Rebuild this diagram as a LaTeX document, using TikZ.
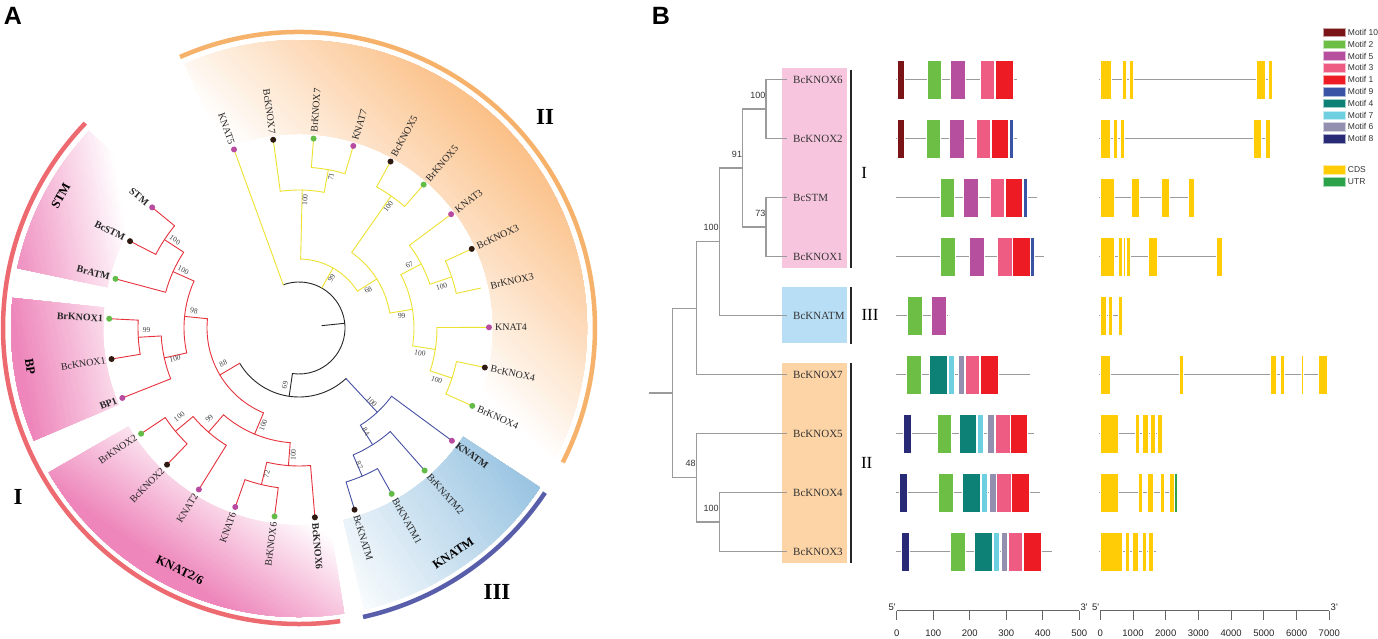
\documentclass[tikz,border=0pt]{standalone}
\usepackage{fontspec}
\setmainfont{Liberation Serif}
\setsansfont{Liberation Sans}
\usetikzlibrary{calc}
\definecolor{ylc}{RGB}{238,226,48}
\definecolor{rdc}{RGB}{230,50,60}
\definecolor{blc}{RGB}{70,80,165}
\definecolor{mag}{RGB}{184,74,160}
\definecolor{brn}{RGB}{45,25,15}
\definecolor{grn}{RGB}{100,188,72}
\definecolor{orS}{RGB}{251,192,135}
\definecolor{pkS}{RGB}{238,134,187}
\definecolor{blS}{RGB}{146,192,224}
\definecolor{orA}{RGB}{246,178,106}
\definecolor{rdA}{RGB}{236,106,112}
\definecolor{blA}{RGB}{88,94,170}
\definecolor{gtree}{RGB}{155,155,155}
\definecolor{boxpk}{RGB}{247,198,222}
\definecolor{boxbl}{RGB}{183,222,245}
\definecolor{boxor}{RGB}{253,212,166}
\definecolor{mA}{RGB}{123,20,22}
\definecolor{mB}{RGB}{108,190,69}
\definecolor{mC}{RGB}{182,80,158}
\definecolor{mD}{RGB}{238,92,131}
\definecolor{mE}{RGB}{237,28,36}
\definecolor{mF}{RGB}{58,83,164}
\definecolor{mG}{RGB}{14,129,119}
\definecolor{mH}{RGB}{109,207,223}
\definecolor{mI}{RGB}{146,144,174}
\definecolor{mJ}{RGB}{41,42,118}
\definecolor{cds}{RGB}{255,204,5}
\definecolor{utr}{RGB}{43,161,74}
\newcommand\trad[4]{\draw[#1] (#2:#3) -- (#2:#4);}
\newcommand\tarc[4]{\draw[#1] (#3:#2) arc[start angle=#3,end angle=#4,radius=#2];}
\newcommand\gsector[8]{%
 \begin{scope}
 \clip (#2:#4) arc[start angle=#2,end angle=#3,radius=#4] -- (#3:#5) arc[start angle=#3,end angle=#2,radius=#5] -- cycle;
 \begin{scope}[rotate=#6]
 \foreach \k in {0,...,40}{%
   \pgfmathsetmacro\xx{(#7)+\k*((#8)-(#7))/40}%
   \pgfmathtruncatemacro\pp{\k*2.5}%
   \fill[#1!\pp!white] (\xx,-320) rectangle (340,320);
 }
 \end{scope}
 \end{scope}}
\newcommand\mrow[2]{\foreach \c/\a/\b in {#2}{\filldraw[fill=\c,mbox] (\a,-#1+19.5) rectangle (\b,-#1-19.5);}}
\begin{document}
\begin{tikzpicture}[x=1pt,y=1pt,
 br/.style={line width=0.9pt,line cap=round},
 tY/.style={br,draw=ylc}, tR/.style={br,draw=rdc}, tB/.style={br,draw=blc}, tK/.style={br,draw=black!85},
 leaf/.style={inner sep=0pt,font=\fontsize{10}{12}\selectfont,text=black!85},
 bs/.style={inner sep=0pt,font=\fontsize{7.5}{9}\selectfont,text=black!75},
 seclab/.style={inner sep=0pt,font=\bfseries\fontsize{12.5}{14}\selectfont},
 romA/.style={inner sep=0pt,font=\bfseries\fontsize{23}{26}\selectfont},
 panel/.style={inner sep=0pt,font=\sffamily\bfseries\fontsize{25}{28}\selectfont},
 gt/.style={draw=gtree,line width=1.1pt},
 lblB/.style={anchor=west,inner sep=0pt,font=\fontsize{11}{13}\selectfont,text=black!80},
 bsB/.style={anchor=east,inner sep=0pt,font=\sffamily\fontsize{9}{10}\selectfont,text=black!80},
 bar/.style={draw=black!85,line width=2.2pt},
 romB/.style={inner sep=0pt,font=\fontsize{17}{19}\selectfont},
 mbox/.style={draw=white,line width=0.3pt},
 gline/.style={draw=gtree,line width=1.2pt},
 axis/.style={draw=black!60,line width=0.8pt},
 tick/.style={inner sep=0pt,font=\sffamily\fontsize{9.5}{11}\selectfont,text=black!85},
 leg/.style={anchor=west,inner sep=0pt,font=\sffamily\fontsize{8.5}{10}\selectfont,text=black!80}]
\useasboundingbox (0,0) rectangle (1378,-638);
\fill[white] (0,0) rectangle (1378,-638);
% ================= Panel A =================
\begin{scope}[shift={(299,-328)}]
\gsector{orS}{113.4}{-27}{194}{288}{45}{80}{285}
\gsector{pkS}{136.8}{168}{196}{288}{190}{150}{275}
\gsector{pkS}{174}{203}{196}{288}{190}{150}{278}
\gsector{pkS}{210}{279}{197}{289}{235}{150}{270}
\gsector{blS}{-33.5}{-77}{197}{289}{34}{-120}{120}
\draw[line width=4.5pt,orA] (113.7:296) arc[start angle=113.7,end angle=-27,radius=296];
\draw[line width=4.5pt,rdA] (136.2:296) arc[start angle=136.2,end angle=278,radius=296];
\draw[line width=4.5pt,blA] (-33.8:296) arc[start angle=-33.8,end angle=-77.5,radius=296];
% root
\tarc{tK}{46}{110}{-98.2}
\trad{tK}{5.9}{23}{46}
% clade II (yellow)
\trad{tY}{110}{46}{188}
\trad{tY}{60.4}{46}{69} \tarc{tY}{69}{88.65}{32.2}
\trad{tY}{88.65}{69}{138} \tarc{tY}{138}{97.8}{79.5} \trad{tY}{97.8}{138}{188}
\trad{tY}{79.5}{138}{161} \tarc{tY}{161}{85.6}{73.4} \trad{tY}{85.6}{161}{188} \trad{tY}{73.4}{161}{188}
\trad{tY}{32.2}{69}{92} \tarc{tY}{92}{55.1}{9.35}
\trad{tY}{55.1}{92}{161} \tarc{tY}{161}{61.2}{49} \trad{tY}{61.2}{161}{188} \trad{tY}{49}{161}{188}
\trad{tY}{9.35}{92}{115} \tarc{tY}{115}{27.65}{-8.95}
\trad{tY}{27.65}{115}{138} \tarc{tY}{138}{36.8}{18.5} \trad{tY}{36.8}{138}{188}
\trad{tY}{18.5}{138}{161} \tarc{tY}{161}{24.6}{12.4} \trad{tY}{24.6}{161}{188} \trad{tY}{12.4}{161}{186}
\trad{tY}{-8.95}{115}{138} \tarc{tY}{138}{0.2}{-18.1} \trad{tY}{0.2}{138}{188}
\trad{tY}{-18.1}{138}{161} \tarc{tY}{161}{-12}{-24.2} \trad{tY}{-12}{161}{188} \trad{tY}{-24.2}{161}{188}
% black joint of I and III
\trad{tK}{-98.2}{46}{69} \tarc{tK}{69}{-149.3}{-47.1}
% clade III (blue)
\trad{tB}{-47.1}{69}{115} \tarc{tB}{115}{-36.4}{-57.75} \trad{tB}{-36.4}{115}{188}
\trad{tB}{-57.75}{115}{138} \tarc{tB}{138}{-48.6}{-66.9} \trad{tB}{-48.6}{138}{188}
\trad{tB}{-66.9}{138}{161} \tarc{tB}{161}{-60.8}{-73} \trad{tB}{-60.8}{161}{188} \trad{tB}{-73}{161}{188}
% clade I (red)
\trad{tR}{-149.3}{69}{92} \tarc{tR}{92}{-112.7}{-185.8}
\trad{tR}{-112.7}{92}{115} \tarc{tR}{115}{-94.4}{-131}
\trad{tR}{-94.4}{115}{138} \tarc{tR}{138}{-85.2}{-103.5} \trad{tR}{-85.2}{138}{188}
\trad{tR}{-103.5}{138}{161} \tarc{tR}{161}{-97.4}{-109.6} \trad{tR}{-97.4}{161}{188} \trad{tR}{-109.6}{161}{188}
\trad{tR}{-131}{115}{138} \tarc{tR}{138}{-121.8}{-140.1} \trad{tR}{-121.8}{138}{188}
\trad{tR}{-140.1}{138}{161} \tarc{tR}{161}{-134}{-146.2} \trad{tR}{-134}{161}{188} \trad{tR}{-146.2}{161}{188}
\trad{tR}{-185.8}{92}{115} \tarc{tR}{115}{-167.5}{-204.1}
\trad{tR}{-167.5}{115}{138} \tarc{tR}{138}{-158.4}{-176.7} \trad{tR}{-158.4}{138}{188}
\trad{tR}{-176.7}{138}{161} \tarc{tR}{161}{-170.6}{-182.8} \trad{tR}{-170.6}{161}{188} \trad{tR}{-182.8}{161}{188}
\trad{tR}{-204.1}{115}{138} \tarc{tR}{138}{-195}{-213.3} \trad{tR}{-195}{138}{188}
\trad{tR}{-213.3}{138}{161} \tarc{tR}{161}{-207.2}{-219.4} \trad{tR}{-207.2}{161}{188} \trad{tR}{-219.4}{161}{188}
% leaves
\foreach \nm/\dc [count=\i from 0] in {KNAT5/mag,BcKNOX7/brn,BrKNOX7/grn,KNAT7/mag,BcKNOX5/brn,BrKNOX5/grn,KNAT3/mag,BcKNOX3/brn,BrKNOX3/none,KNAT4/mag,BcKNOX4/brn,BrKNOX4/grn,{\bfseries KNATM}/mag,BrKNATM2/grn,BrKNATM1/grn,BcKNATM/brn,{\bfseries BcKNOX6}/brn,BrKNOX6/grn,KNAT6/mag,KNAT2/mag,BcKNOX2/brn,BrKNOX2/grn,{\bfseries BP1}/mag,BcKNOX1/brn,{\bfseries BrKNOX1}/grn,{\bfseries BrATM}/grn,{\bfseries BcSTM}/brn,{\bfseries STM}/mag}{%
  \pgfmathsetmacro\ang{110-12.2*\i}%
  \pgfmathtruncatemacro\isright{and(\ang<90,\ang>-90)}%
  \path[fill=\dc] (\ang:190) circle[radius=3];
  \ifnum\isright=1
    \node[leaf,rotate=\ang,anchor=west] (leaf\i) at (\ang:196) {\nm};
  \else
    \node[leaf,rotate=\ang+180,anchor=east] (leaf\i) at (\ang:196) {\nm};
  \fi
}
\node[seclab,rotate=61] (sSTM) at (151:272.4) {STM};
\node[seclab,rotate=-81.8] (sBP) at (188.2:271.8) {BP};
\node[seclab,rotate=-26.2] (sKN) at (243.8:269.7) {KNAT2/6};
\node[seclab,rotate=34.4] (sKM) at (-55.6:273) {KNATM};
\end{scope}
% bootstrap values, panel A
\foreach \x/\y/\r/\t [count=\j] in {331/176.7/78/71, 305/200/87.3/100, 331.7/278.3/56.7/99, 388.3/206.7/53.6/100, 368.3/290/28.7/68, 409.3/265/29.7/67, 441.7/286.7/16.1/100, 401.7/316/6.7/99, 420/353/-11.7/100, 436.7/380/-20.7/100, 371.7/401.7/-45.4/100, 366/431.7/-57.1/84, 359.3/465/-66.2/87, 285/385/76.2/69, 175/240/-35.4/100, 183.3/270/-26.6/100, 194/310.7/-9.4/98, 146.7/330/0.8/99, 175/358.3/13.7/100, 223.3/363.3/25/88, 179.3/416.7/36.5/100, 209.3/418.3/45.2/99, 263.3/425/69.8/100, 266.7/474/77.5/72, 293.3/455/87.4/100}{%
  \node[bs,rotate=\r] (bA\j) at (\x,-\y) {\t};
}
\node[romA] (rI) at (18,-497) {I};
\node[romA] (rII) at (545,-117) {II};
\node[romA] (rIII) at (497,-592) {III};
\node[panel] (pA) at (13,-16) {A};
\node[panel] (pB) at (661,-16) {B};
% ================= Panel B =================
\fill[boxpk] (782,-68.3) rectangle (846.7,-268.3);
\fill[boxbl] (782,-287.3) rectangle (846.7,-343.3);
\fill[boxor] (782,-362.7) rectangle (846.7,-563.3);
\draw[bar] (850.7,-69.7) -- (850.7,-268.3);
\draw[bar] (850.7,-286.7) -- (850.7,-344);
\draw[bar] (850.7,-362.7) -- (850.7,-562.7);
\node[romB] (bI) at (864.3,-172.7) {I};
\node[romB] (bIII) at (870,-315) {III};
\node[romB] (bII) at (866.7,-463.3) {II};
\foreach \n/\y [count=\k] in {BcKNOX6/79.5,BcKNOX2/138.5,BcSTM/197.5,BcKNOX1/256.5,BcKNATM/315.5,BcKNOX7/374.5,BcKNOX5/433.5,BcKNOX4/492.5,BcKNOX3/551.5}{%
  \coordinate (L\k) at (787,-\y);
  \node[lblB] (g\k) at (793,-\y) {\n};
}
\coordinate (n1) at (766,-109);
\coordinate (n2) at (766,-227);
\coordinate (n3) at (742.7,-168);
\coordinate (n4) at (719.3,-241.7);
\coordinate (n5) at (696.7,-308.1);
\coordinate (n7) at (719.3,-522);
\coordinate (n6) at (696.3,-477.8);
\coordinate (rt) at (672.7,-393);
\coordinate (st) at (649.3,-393);
\draw[gt] (n1) |- (L1) (n1) |- (L2) (n2) |- (L3) (n2) |- (L4)
  (n3) |- (n1) (n3) |- (n2) (n4) |- (n3) (n4) |- (L5)
  (n5) |- (n4) (n5) |- (L6) (n7) |- (L8) (n7) |- (L9)
  (n6) |- (L7) (n6) |- (n7) (rt) |- (n5) (rt) |- (n6) (st) -- (rt);
\node[bsB] at ([xshift=-0.5pt,yshift=14pt]n1) {100};
\node[bsB] at ([xshift=-0.5pt,yshift=14pt]n2) {73};
\node[bsB] at ([xshift=-0.5pt,yshift=14pt]n3) {91};
\node[bsB] at ([xshift=-0.5pt,yshift=14pt]n4) {100};
\node[bsB] at ([xshift=-0.5pt,yshift=14pt]n6) {48};
\node[bsB] at ([xshift=-0.5pt,yshift=14pt]n7) {100};
% motif backbones
\foreach \y/\e in {79.5/1016.7,138.5/1016.7,197.5/1037.3,256.5/1044.3,315.5/947.7,374.5/1030,433.5/1034.3,492.5/1040,551.5/1051.7}{\draw[gline] (896,-\y) -- (\e,-\y);}
\mrow{79.5}{mA/896.7/904,mB/926.7/941,mC/950.3/965,mD/980/994.3,mE/995/1012.7}
\mrow{138.5}{mA/896.7/904,mB/925.7/940.3,mC/949.3/964,mD/975.7/990.3,mE/991/1008.3,mF/1008.7/1013}
\mrow{197.5}{mB/940/954,mC/963/977.7,mD/990/1004,mE/1005/1022.3,mF/1022.7/1027}
\mrow{256.5}{mB/940.3/954.7,mC/969.3/984,mD/997.3/1011.7,mE/1012/1029.7,mF/1030/1034.3}
\mrow{315.5}{mB/907.3/921.7,mC/931/945.7}
\mrow{374.5}{mB/906.3/920.7,mG/929.3/947,mH/947.7/954,mI/958/964.3,mD/965/979.3,mE/980/998}
\mrow{433.5}{mJ/902.7/910.7,mB/937/951.3,mG/958.7/976,mH/976.7/982.7,mI/987.3/994.3,mD/995/1009.7,mE/1010/1027.3}
\mrow{492.5}{mJ/899.3/907.3,mB/938.3/952.7,mG/962.3/980,mH/980.7/987,mI/989/995.7,mD/996.3/1011,mE/1011.3/1029}
\mrow{551.5}{mJ/901.3/909.3,mB/950.3/964.7,mG/974.3/991.7,mH/992.7/999,mI/1000.7/1007.3,mD/1008/1022.3,mE/1023/1041}
% gene structures
\foreach \y/\e in {79.5/1271.7,138.5/1270.7,197.5/1195,256.5/1222.3,315.5/1122.7,374.5/1327.7,433.5/1162.3,492.5/1176.7,551.5/1157.3}{\draw[gline] (1099.3,-\y) -- (\e,-\y);}
\mrow{79.5}{cds/1100.3/1110.7,cds/1122/1126,cds/1129/1133,cds/1256/1265,cds/1267.7/1271.7}
\mrow{138.5}{cds/1100.3/1110.3,cds/1113/1117,cds/1120/1124.3,cds/1253/1261,cds/1265/1270}
\mrow{197.5}{cds/1100.3/1114,cds/1130.7/1138.7,cds/1161/1169,cds/1187.7/1194.3}
\mrow{256.5}{cds/1100.3/1114,cds/1118.3/1122.3,cds/1123.3/1125.3,cds/1126/1130,cds/1148.3/1156.7,cds/1215.7/1222}
\mrow{315.5}{cds/1100.3/1105.7,cds/1108.3/1112.3,cds/1118/1122.3}
\mrow{374.5}{cds/1100.3/1109.7,cds/1178.7/1182.7,cds/1269.7/1276.3,cds/1280/1284.3,cds/1301/1303,cds/1318.3/1327.3}
\mrow{433.5}{cds/1100.3/1117.7,cds/1135/1139,cds/1141.7/1148,cds/1150.3/1155,cds/1157.3/1162}
\mrow{492.5}{cds/1100.3/1118.3,cds/1137.7/1141.7,cds/1147.3/1153.3,cds/1159.7/1164,cds/1169/1174.3,utr/1174.3/1176.7}
\mrow{551.5}{cds/1100.3/1121.7,cds/1125/1129,cds/1132/1138,cds/1142/1146,cds/1148.3/1152.7,cds/1155.7/1157}
% axes
\draw[axis] (896.7,-610.7) -- (1079.3,-610.7);
\foreach \i in {0,...,5}{%
  \pgfmathtruncatemacro\lab{\i*100}%
  \draw[axis] (896.7+36.52*\i,-610.7) -- ++(0,-9.3);
  \node[tick] at (896.7+36.52*\i,-633.5) {\lab};
}
\draw[axis] (1100.3,-610.7) -- (1329.3,-610.7);
\foreach \i in {0,...,7}{%
  \pgfmathtruncatemacro\lab{\i*1000}%
  \draw[axis] (1100.3+32.71*\i,-610.7) -- ++(0,-9.3);
  \node[tick] at (1100.3+32.71*\i,-633.5) {\lab};
}
\node[tick,anchor=east] at (896,-607.5) {5\textquotesingle};
\node[tick,anchor=west] at (1080.5,-607.5) {3\textquotesingle};
\node[tick,anchor=east] at (1099.5,-607.5) {5\textquotesingle};
\node[tick,anchor=west] at (1330.5,-607.5) {3\textquotesingle};
% legend
\foreach \c/\t [count=\k from 0] in {mA/Motif 10,mB/Motif 2,mC/Motif 5,mD/Motif 3,mE/Motif 1,mF/Motif 9,mG/Motif 4,mH/Motif 7,mI/Motif 6,mJ/Motif 8}{%
  \pgfmathsetmacro\yy{32.3+11.83*\k}%
  \filldraw[fill=\c,draw=\c!40!white,line width=0.4pt] (1322.7,-\yy+4.35) rectangle (1345,-\yy-4.35);
  \node[leg] (lg\k) at (1347.7,-\yy) {\t};
}
\filldraw[fill=cds,draw=cds!40!white,line width=0.4pt] (1322.7,-165.2) rectangle (1345,-173.8);
\node[leg] (lgc) at (1347.7,-169.5) {CDS};
\filldraw[fill=utr,draw=utr!40!white,line width=0.4pt] (1322.7,-177.2) rectangle (1345,-185.8);
\node[leg] (lgu) at (1347.7,-181.5) {UTR};
\end{tikzpicture}
\end{document}
